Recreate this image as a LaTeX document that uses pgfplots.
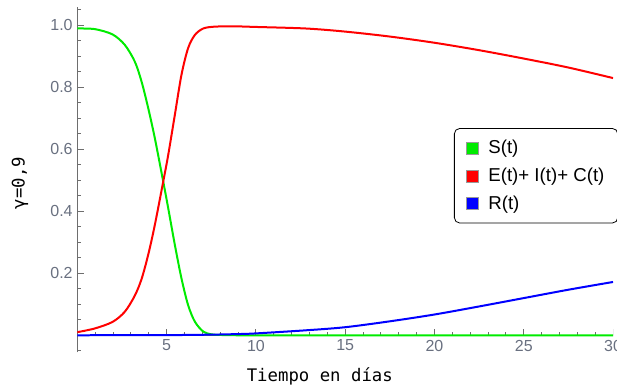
\documentclass[border=0pt]{standalone}
\usepackage{fontspec}
\setmainfont{Liberation Sans}
\newfontfamily\monofont{DejaVu Sans Mono}
\usepackage{pgfplots}
\pgfplotsset{compat=1.18}
\definecolor{tickgray}{RGB}{105,112,128}
\definecolor{axgray}{RGB}{110,110,110}
\definecolor{mgreen}{RGB}{0,235,0}
\definecolor{mred}{RGB}{255,0,0}
\definecolor{mblue}{RGB}{0,0,255}
\begin{document}
\begin{tikzpicture}
\begin{axis}[
  width=402pt, height=259.24pt, scale only axis,
  axis lines=middle,
  axis line style={-, axgray},
  xmin=0, xmax=30, ymin=-0.055, ymax=1.06,
  xtick={5,10,15,20,25,30},
  ytick={0.2,0.4,0.6,0.8,1.0},
  major tick length=0pt, minor tick length=0pt,
  /pgf/number format/assume math mode=true,
  ticklabel style={font=\fontsize{12}{14}\selectfont, text=tickgray},
  y tick label style={/pgf/number format/fixed, /pgf/number format/fixed zerofill, /pgf/number format/precision=1},
  xlabel={\monofont Tiempo en días},
  xlabel style={at={(axis description cs:0.4526,-0.071)}, anchor=center, font=\fontsize{13}{15}\selectfont, text=black},
  ylabel={\monofont γ=0,9},
  ylabel style={at={(axis description cs:-0.107,0.49)}, anchor=center, rotate=90, font=\fontsize{13}{15}\selectfont, text=black},
  legend style={at={(axis description cs:0.703,0.649)}, anchor=north west, draw=black, fill=white, rounded corners=4pt, font=\fontsize{14}{16}\selectfont, row sep=5pt, inner xsep=8pt, inner ysep=7pt, line width=0.6pt},
  legend cell align=left,
  legend image code/.code={\filldraw[#1, sharp corners, draw=black!40, line width=0.3pt] (0pt,-4.5pt) rectangle (9pt,4.5pt); \path (0pt,0pt) (14pt,0pt);},
]
% tick marks along the x axis (major and minor), drawn inward
\addplot[forget plot, ycomb, axgray, line width=0.7pt, mark=none] coordinates {
(5,0.021) (10,0.021) (15,0.021) (20,0.021) (25,0.021) (30,0.021)
};
\addplot[forget plot, ycomb, axgray, line width=0.7pt, mark=none] coordinates {
(1,0.011) (2,0.011) (3,0.011) (4,0.011) (6,0.011) (7,0.011) (8,0.011) (9,0.011)
(11,0.011) (12,0.011) (13,0.011) (14,0.011) (16,0.011) (17,0.011) (18,0.011) (19,0.011)
(21,0.011) (22,0.011) (23,0.011) (24,0.011) (26,0.011) (27,0.011) (28,0.011) (29,0.011)
};
% tick marks along the y axis
\addplot[forget plot, xcomb, axgray, line width=0.7pt, mark=none] coordinates {
(0.38,0.2) (0.38,0.4) (0.38,0.6) (0.38,0.8) (0.38,1.0)
};
\addplot[forget plot, xcomb, axgray, line width=0.7pt, mark=none] coordinates {
(0.2,-0.05) (0.2,0.05) (0.2,0.1) (0.2,0.15) (0.2,0.25) (0.2,0.3) (0.2,0.35) (0.2,0.45) (0.2,0.5) (0.2,0.55)
(0.2,0.65) (0.2,0.7) (0.2,0.75) (0.2,0.85) (0.2,0.9) (0.2,0.95) (0.2,1.05)
};
\addplot[mgreen, line width=1.5pt, smooth] coordinates {
(0,0.99) (0.98,0.988) (1.97,0.971) (2.66,0.937) (3.22,0.883) (3.6,0.818) (3.97,0.733) (4.34,0.636) (4.81,0.496) (5.09,0.41) (5.46,0.292) (5.83,0.184) (6.2,0.098) (6.58,0.044) (7.05,0.012) (7.5,0.003) (8,0.001) (9,0) (12,0) (18,0) (24,0) (30,0)
};
\addlegendentry{S(t)}
\addplot[mred, line width=1.5pt, smooth] coordinates {
(0,0.01) (0.98,0.022) (1.97,0.043) (2.66,0.076) (3.22,0.128) (3.6,0.182) (3.97,0.26) (4.34,0.356) (4.81,0.496) (5.09,0.582) (5.46,0.711) (5.83,0.84) (6.2,0.926) (6.58,0.969) (7.05,0.99) (7.7,0.996) (8.8,0.997) (10,0.995) (12.8,0.99) (15,0.98) (17.5,0.964) (20,0.944) (22.5,0.92) (25,0.893) (27.5,0.864) (30,0.83)
};
\addlegendentry{E(t)+ I(t)+ C(t)}
\addplot[mblue, line width=1.5pt, smooth] coordinates {
(0,0) (5,0.0005) (7.5,0.002) (9.1,0.004) (10,0.006) (12.8,0.016) (15,0.026) (17.5,0.045) (20,0.067) (22.5,0.093) (25,0.12) (27.5,0.147) (30,0.172)
};
\addlegendentry{R(t)}
\coordinate (BBsw) at (axis cs:-4.33,-0.173);
\coordinate (BBne) at (axis cs:30.22,1.082);
\end{axis}
\pgfresetboundingbox
\useasboundingbox (BBsw) rectangle (BBne);
\end{tikzpicture}
\end{document}
